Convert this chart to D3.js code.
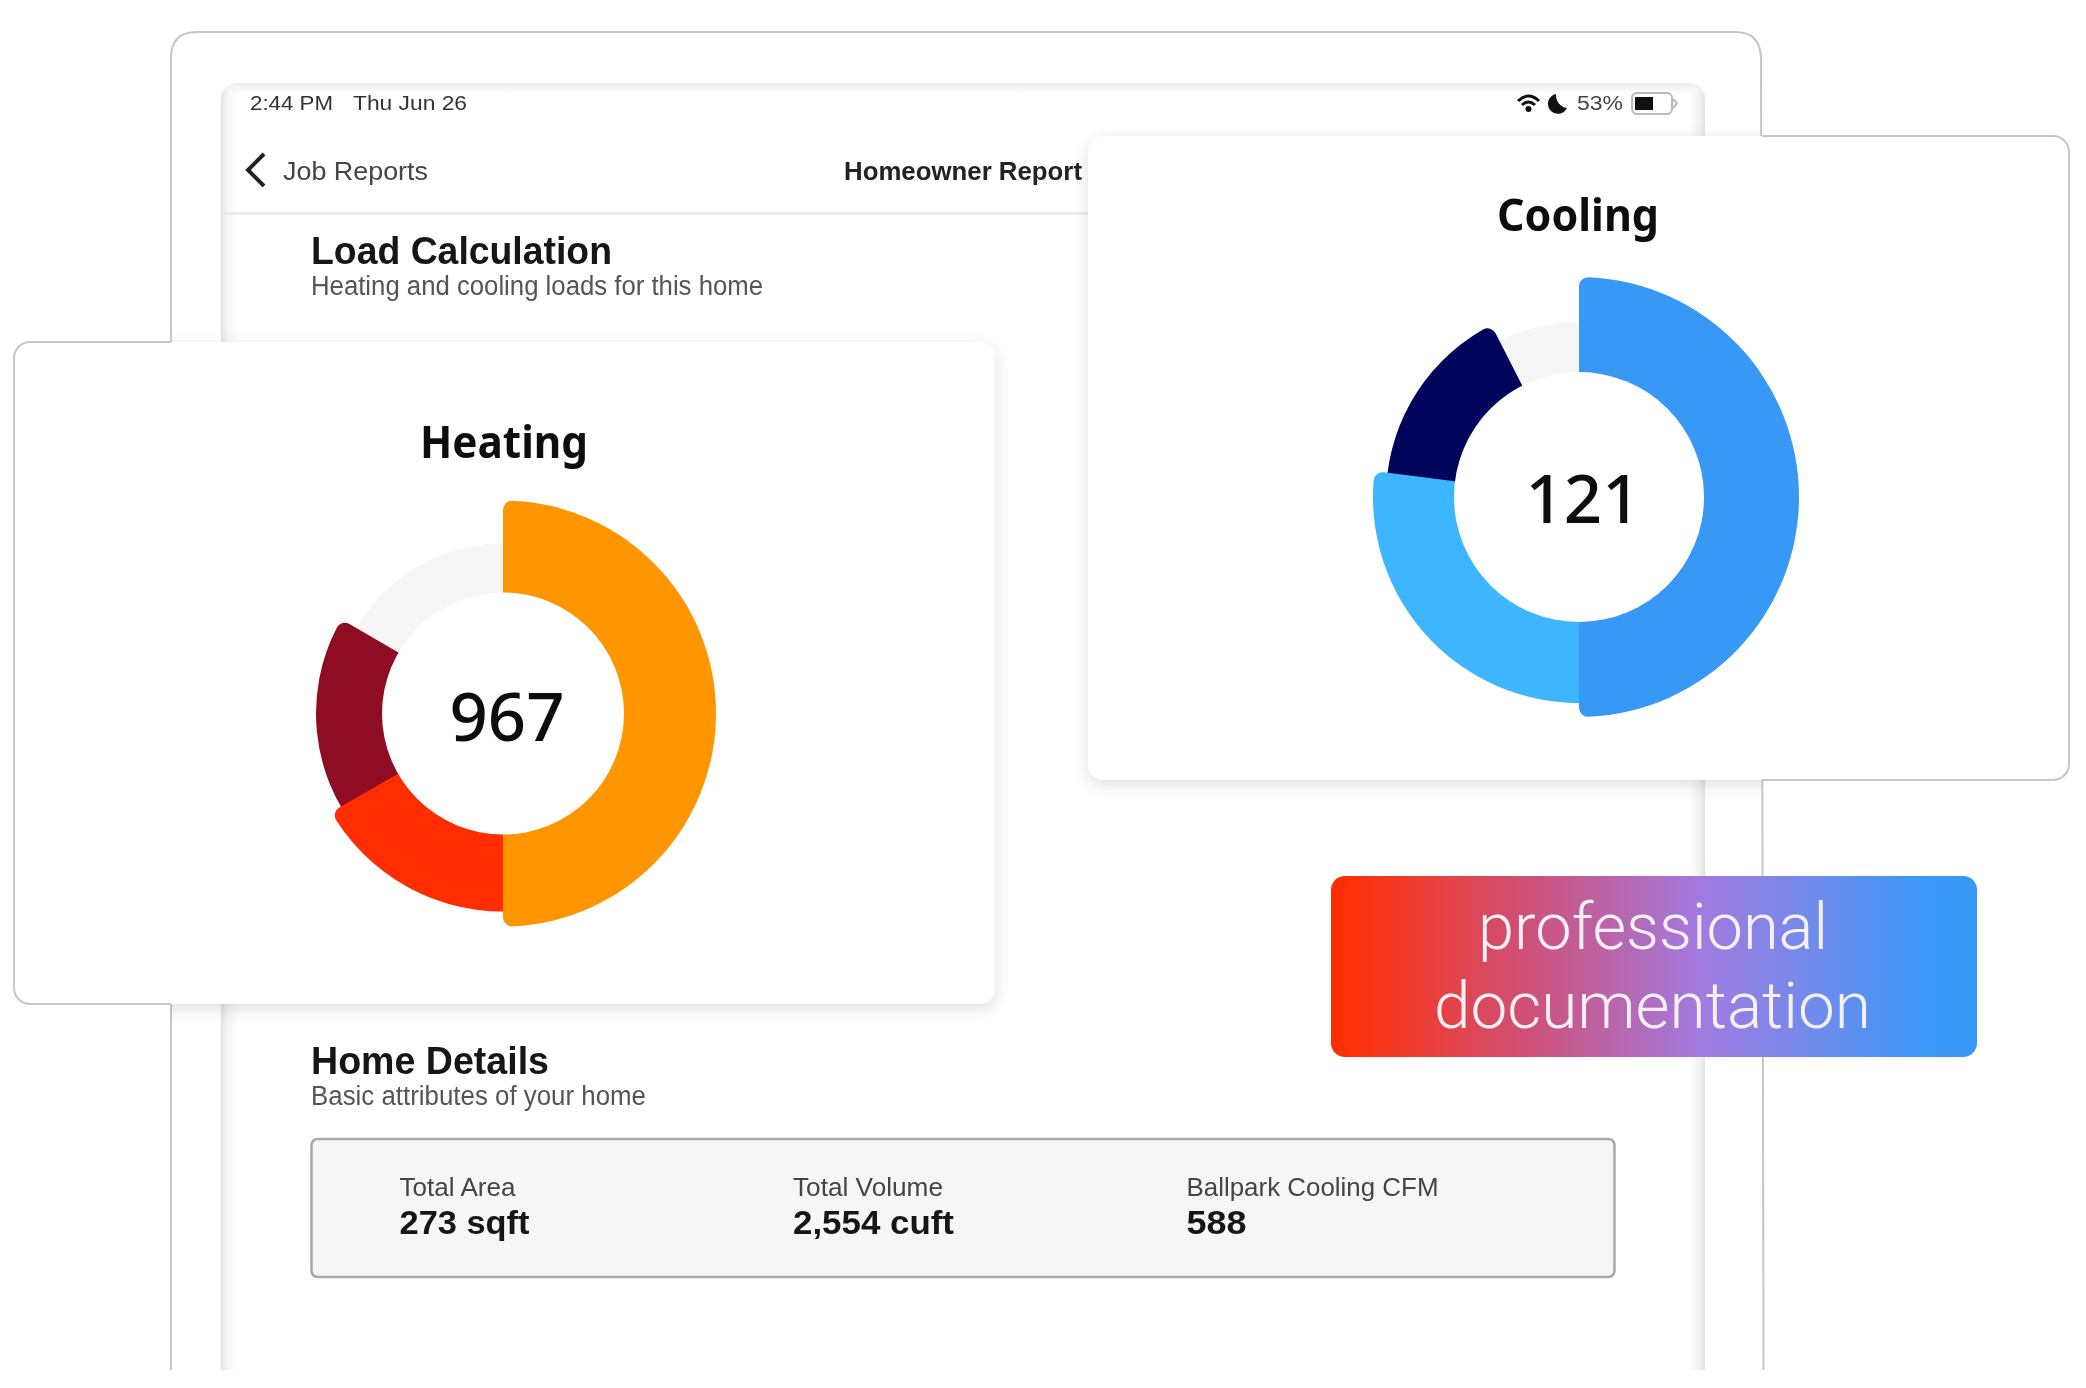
<!DOCTYPE html>
<html>
<head>
<meta charset="utf-8">
<script src="https://cdn.jsdelivr.net/npm/d3@7"></script>
<style>
html, body { margin: 0; padding: 0; background: #fff; }
svg { display: block; }
</style>
</head>
<body>
<svg id="chart" width="2086" height="1388"></svg>
<script>
// donut shares in percent, clockwise from 12 o'clock
var heatingValues = [50, 16.7, 16.7, 16.6];
var heatingTotal = "967";
var coolingValues = [50, 27, 15.5, 7.5];
var coolingTotal = "121";
var detailLabels = ["Total Area", "Total Volume", "Ballpark Cooling CFM"];
var detailValues = ["273 sqft", "2,554 cuft", "588"];

var heatingColors = ["#ff9500", "#ff2d00", "#8e0d22", "#f6f6f6"];
var coolingColors = ["#3798f5", "#3eb6ff", "#00045a", "#f6f6f6"];

var uiFont = "'Liberation Sans', Arial, sans-serif";
var cardFont = "'Noto Sans', sans-serif";

var svg = d3.select("#chart");
var defs = svg.append("defs");

// the source is a soft upscaled screenshot
defs.append("filter").attr("id", "soft")
    .attr("x", "-5%").attr("y", "-20%").attr("width", "110%").attr("height", "140%")
    .append("feGaussianBlur").attr("stdDeviation", 0.5);

var put = function(text, x, y, size, weight, fill, width, font, anchor) {
    var t = svg.append("text")
	.attr("x", x)
	.attr("y", y)
	.attr("font-family", font || uiFont)
	.attr("font-size", size)
	.attr("font-weight", weight)
	.attr("fill", fill)
	.attr("text-anchor", anchor || "start")
	.attr("filter", "url(#soft)")
	.text(text);
    if (width) {
	t.attr("textLength", width).attr("lengthAdjust", "spacingAndGlyphs");
    }
    return t;
};

var fade = function(id, x1, y1, x2, y2, edge) {
    var g = defs.append("linearGradient").attr("id", id)
	.attr("x1", x1).attr("y1", y1).attr("x2", x2).attr("y2", y2);
    g.append("stop").attr("offset", 0).attr("stop-color", edge);
    g.append("stop").attr("offset", 0.3).attr("stop-color", "#f2f2f3");
    g.append("stop").attr("offset", 1).attr("stop-color", "#ffffff").attr("stop-opacity", 0);
};
fade("fadeL", 0, 0, 1, 0, "#e3e3e6");
fade("fadeR", 1, 0, 0, 0, "#e3e3e6");
fade("fadeT", 0, 0, 0, 1, "#ebebed");

// device frame, open at the bottom
svg.append("path")
    .attr("d", "M171,1370 L171,58 Q171,32 197,32 L1736,32 Q1760,32 1761,58 L1763.5,1370")
    .attr("fill", "none")
    .attr("stroke", "#c6c6c6")
    .attr("stroke-width", 2);

// screen edges, rounded at the top
defs.append("clipPath").attr("id", "screen").append("rect")
    .attr("x", 221).attr("y", 83).attr("width", 1484).attr("height", 1400).attr("rx", 16);
var screen = svg.append("g").attr("clip-path", "url(#screen)");
screen.append("rect").attr("x", 221).attr("y", 83).attr("width", 1484).attr("height", 14).attr("fill", "url(#fadeT)");
screen.append("rect").attr("x", 221).attr("y", 83).attr("width", 20).attr("height", 1287).attr("fill", "url(#fadeL)");
screen.append("rect").attr("x", 1685).attr("y", 83).attr("width", 20).attr("height", 1287).attr("fill", "url(#fadeR)");

// status bar
put("2:44 PM", 250, 110, 20, 400, "#333", 83);
put("Thu Jun 26", 353, 110, 20, 400, "#333", 114);
put("53%", 1577, 110, 20, 400, "#444", 46);

var wifi = svg.append("g").attr("fill", "none").attr("stroke", "#111").attr("stroke-width", 3);
wifi.append("path").attr("d", "M1518,101 Q1528.5,91 1539,101");
wifi.append("path").attr("d", "M1522,105 Q1528.5,99 1535,105");
svg.append("circle").attr("cx", 1528.5).attr("cy", 109).attr("r", 3).attr("fill", "#111");
svg.append("path").attr("d", "M1556,94 A10,10 0 1,0 1567,108 A13,13 0 0,1 1556,94 Z").attr("fill", "#111");

svg.append("rect").attr("x", 1632).attr("y", 93).attr("width", 40).attr("height", 21).attr("rx", 5)
    .attr("fill", "#fff").attr("stroke", "#bbb").attr("stroke-width", 2);
svg.append("rect").attr("x", 1635).attr("y", 97).attr("width", 18).attr("height", 13).attr("fill", "#111");
svg.append("path").attr("d", "M1673,99 L1677,103.5 L1673,108").attr("fill", "none").attr("stroke", "#bbb").attr("stroke-width", 2);

// nav bar
svg.append("path").attr("d", "M264,154 L248,170 L264,186")
    .attr("fill", "none").attr("stroke", "#222").attr("stroke-width", 4);
put("Job Reports", 283, 180, 26, 400, "#444", 145);
put("Homeowner Report", 844, 180, 26, 700, "#222", 238);
svg.append("line").attr("x1", 224).attr("x2", 1090).attr("y1", 213.5).attr("y2", 213.5)
    .attr("stroke", "#e6e6e6").attr("stroke-width", 2);

put("Load Calculation", 311, 264, 38, 700, "#151515", 301);
put("Heating and cooling loads for this home", 311, 295, 27, 400, "#555", 452);
put("Home Details", 311, 1074, 38, 700, "#151515", 238);
put("Basic attributes of your home", 311, 1105, 27, 400, "#555", 335);

// details box
svg.append("rect").attr("x", 311.5).attr("y", 1139).attr("width", 1303).attr("height", 138).attr("rx", 6)
    .attr("fill", "#f6f6f6").attr("stroke", "#a8a8a8").attr("stroke-width", 2.5);

var detailX = d3.scalePoint().domain(detailLabels).range([399.5, 1186.5]);
var labelWidths = [116, 150, 252];
var valueWidths = [130, 161, 60];
detailLabels.forEach(function(d, i) {
    put(d, detailX(d), 1196, 26, 400, "#444", labelWidths[i]);
    put(detailValues[i], detailX(d), 1234, 34, 700, "#151515", valueWidths[i]);
});

// card shadow
var blur = defs.append("filter").attr("id", "cardShadow")
    .attr("x", "-5%").attr("y", "-5%").attr("width", "110%").attr("height", "115%");
blur.append("feDropShadow").attr("dx", 0).attr("dy", 5).attr("stdDeviation", 8)
    .attr("flood-color", "#000").attr("flood-opacity", 0.13);

defs.append("clipPath").attr("id", "insideFrame").append("rect")
    .attr("x", 171).attr("y", 0).attr("width", 1591).attr("height", 1388);
defs.append("clipPath").attr("id", "leftOfFrame").append("rect")
    .attr("x", 0).attr("y", 0).attr("width", 171).attr("height", 1388);
defs.append("clipPath").attr("id", "rightOfFrame").append("rect")
    .attr("x", 1762).attr("y", 0).attr("width", 324).attr("height", 1388);

var drawCard = function(x, y, w, h, borderClip) {
    svg.append("g").attr("clip-path", "url(#insideFrame)")
	.append("rect").attr("x", x).attr("y", y).attr("width", w).attr("height", h).attr("rx", 16)
	.attr("fill", "#fff").attr("filter", "url(#cardShadow)");
    svg.append("rect").attr("x", x).attr("y", y).attr("width", w).attr("height", h).attr("rx", 16)
	.attr("fill", "#fff");
    svg.append("g").attr("clip-path", "url(#" + borderClip + ")")
	.append("rect").attr("x", x).attr("y", y).attr("width", w).attr("height", h).attr("rx", 16)
	.attr("fill", "none").attr("stroke", "#c6c6c6").attr("stroke-width", 2);
};

// each slice has its own outer radius and only its outer corners are rounded:
// the hidden side is tucked under the next slice, the inner side under the disc
var drawDonut = function(cx, cy, values, colors, outer, inner, total, totalX, totalWidth, totalY) {
    var g = svg.append("g").attr("transform", "translate(" + cx + "," + cy + ")");
    var slices = d3.pie().sort(null)(values);
    var tuck = 0.2;
    d3.range(slices.length - 1, -1, -1).forEach(function(i) {
	var s = slices[i];
	var arc = d3.arc()
	    .innerRadius(inner - 24)
	    .outerRadius(outer[i])
	    .cornerRadius(i == slices.length - 1 ? 0 : 9);
	g.append("path")
	    .attr("d", arc({
		startAngle: i == 0 ? s.startAngle : s.startAngle - tuck,
		endAngle: i == slices.length - 1 ? s.endAngle + tuck : s.endAngle
	    }))
	    .attr("fill", colors[i]);
    });
    g.append("circle").attr("r", inner).attr("fill", "#fff");
    put(total, totalX, totalY, 67, 500, "#111", totalWidth, cardFont, "middle");
};

drawCard(14, 342, 981, 662, "leftOfFrame");
put("Heating", 504, 458, 44, 700, "#111", 168, cardFont, "middle");
drawDonut(503, 713.5, heatingValues, heatingColors, [213, 198, 187, 170], 121, heatingTotal, 507, 115, 741);

drawCard(1088, 136, 981, 644, "rightOfFrame");
put("Cooling", 1578, 231, 44, 700, "#111", 162, cardFont, "middle");
drawDonut(1579, 497, coolingValues, coolingColors, [220, 206, 193, 175], 125, coolingTotal, 1583, 115, 523);

// badge
var grad = defs.append("linearGradient").attr("id", "badgeFill");
[[0, "#ff2d00"], [0.05, "#fb3310"], [0.3, "#cf5076"], [0.57, "#a27adf"], [0.75, "#6f8cec"], [0.92, "#3a98f7"], [1, "#3798f5"]]
    .forEach(function(d) {
	grad.append("stop").attr("offset", d[0]).attr("stop-color", d[1]);
    });
svg.append("rect").attr("x", 1331).attr("y", 876).attr("width", 646).attr("height", 181).attr("rx", 14)
    .attr("fill", "url(#badgeFill)");
put("professional", 1478, 949, 64, 300, "#f6f0f6", 350, "Roboto, sans-serif");
put("documentation", 1434, 1028, 64, 300, "#f6f0f6", 437, "Roboto, sans-serif");
</script>
</body>
</html>
